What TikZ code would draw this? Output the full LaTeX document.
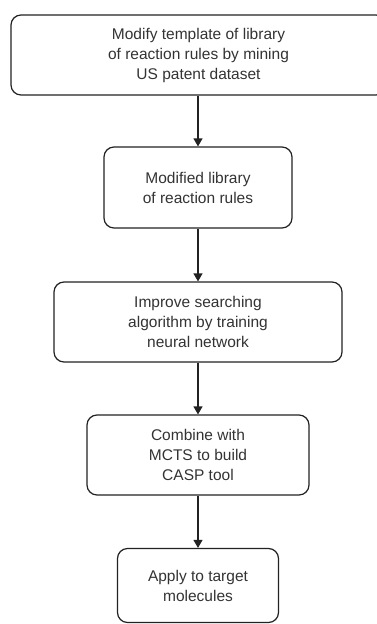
\documentclass[tikz,border=0pt]{standalone}
\usepackage{fontspec}
\setmainfont{Liberation Sans}
\usetikzlibrary{arrows.meta}
\definecolor{txt}{HTML}{333333}
\definecolor{ln}{HTML}{222222}
\begin{document}
\begin{tikzpicture}[x=1pt,y=-1pt,
  box/.style={draw=ln,line width=1.2pt,rounded corners=10pt,align=center,
    inner sep=0pt,text=txt,font=\fontsize{15.5}{20}\selectfont},
  arr/.style={draw=ln,line width=1.2pt,-{Triangle[length=8pt,width=9pt]}}]
\useasboundingbox (0,0) rectangle (376,624);
\node[box,minimum width=375pt,minimum height=80pt] (b1) at (198.5,55)
  {Modify template of library\\of reaction rules by mining\\US patent dataset};
\node[box,minimum width=188pt,minimum height=81pt] (b2) at (198,187.5)
  {Modified library\\of reaction rules};
\node[box,minimum width=288pt,minimum height=80pt] (b3) at (198,322)
  {Improve searching\\algorithm by training\\neural network};
\node[box,minimum width=222pt,minimum height=80pt] (b4) at (198,455)
  {Combine with\\MCTS to build\\CASP tool};
\node[box,minimum width=161pt,minimum height=74pt] (b5) at (198,585.5)
  {Apply to target\\molecules};
\draw[arr] (b1.south -| b2.north) -- (b2.north);
\draw[arr] (b2.south) -- (b3.north);
\draw[arr] (b3.south) -- (b4.north);
\draw[arr] (b4.south) -- (b5.north);
\end{tikzpicture}
\end{document}
